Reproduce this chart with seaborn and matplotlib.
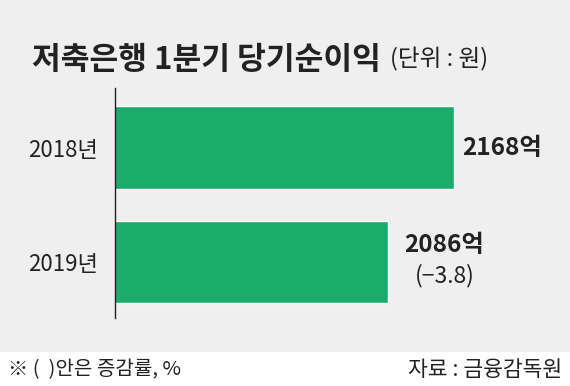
import matplotlib.pyplot as plt
import pandas as pd
import seaborn as sns
from matplotlib.patches import Rectangle

years = ["2018년", "2019년"]
profits = [2168, 2086]
changes = [None, -3.8]

df = pd.DataFrame({"year": years, "profit": profits})

sns.set_theme(style="white")
plt.rcParams["font.family"] = ["Noto Sans CJK KR", "DejaVu Sans"]

fig = plt.figure(figsize=(5.7, 3.86), dpi=100)
fig.patch.set_facecolor("white")
fig.patches.append(Rectangle((0, 0.088), 1, 0.912, transform=fig.transFigure,
                             facecolor="#efefef", edgecolor="none", zorder=-10))

ax = fig.add_axes([0.2018, 0.176, 0.7982, 0.596])
ax.set_facecolor("none")
sns.barplot(data=df, y="year", x="profit", orient="h", color="#19ad69",
            width=0.72, saturation=1, ax=ax)

ax.set_xlim(1747, 2312)
ax.set_ylim(1.49, -0.52)
ax.set_xlabel("")
ax.set_ylabel("")
ax.set_xticks([])
for side in ["top", "right", "bottom"]:
    ax.spines[side].set_visible(False)
ax.spines["left"].set_color("#222222")
ax.spines["left"].set_linewidth(1.0)
ax.tick_params(axis="y", length=0, pad=12, labelsize=16, labelcolor="#222222")

for i, (val, chg) in enumerate(zip(profits, changes)):
    if chg is None:
        ax.annotate(f"{val}억", xy=(val, i), xytext=(6, 0), textcoords="offset points",
                    ha="left", va="center", fontsize=17.5, fontweight="bold", color="#222222")
    else:
        ax.annotate(f"{val}억", xy=(val, i), xytext=(12, 12), textcoords="offset points",
                    ha="left", va="center", fontsize=17.5, fontweight="bold", color="#222222")
        ax.annotate(f"({chg:.1f})".replace("-", "−"), xy=(val, i), xytext=(19, -10),
                    textcoords="offset points", ha="left", va="center", fontsize=16.5,
                    color="#222222")

fig.text(0.056, 0.845, "저축은행 1분기 당기순이익", fontsize=22.5, fontweight="bold",
         color="#222222", va="center", ha="left")
fig.text(0.684, 0.845, "(단위 : 원)", fontsize=17, color="#222222", va="center", ha="left")

fig.text(0.014, 0.042, "※ (  )안은 증감률, %", fontsize=14.5, color="#222222",
         va="center", ha="left")
fig.text(0.986, 0.042, "자료 : 금융감독원", fontsize=15.5, color="#222222",
         va="center", ha="right")

fig.savefig("out.png", dpi=100)
